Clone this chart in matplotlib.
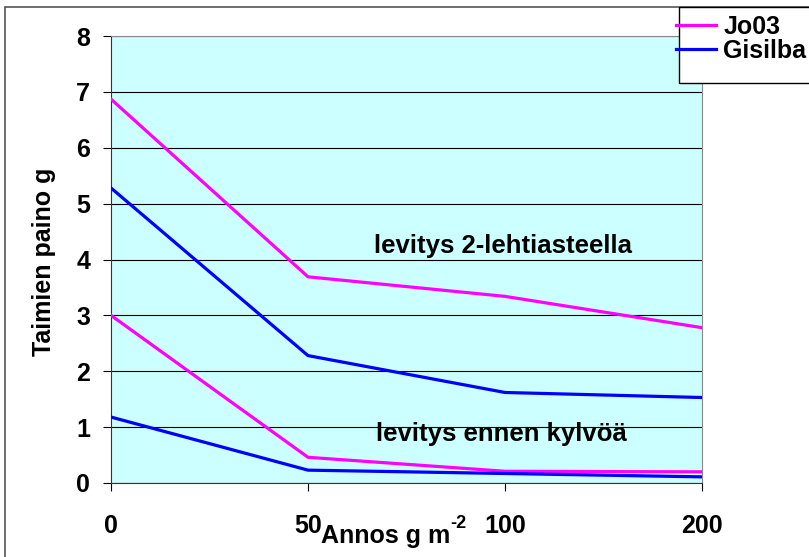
import matplotlib.pyplot as plt
from matplotlib.patches import Rectangle

plt.rcParams['font.family'] = ['Liberation Sans', 'DejaVu Sans']
plt.rcParams['font.weight'] = 'bold'

# annos g m-2 (kategoria-akseli)
annos = ['0', '50', '100', '200']
jo03_lehti = [6.87, 3.69, 3.34, 2.78]
gisilba_lehti = [5.28, 2.28, 1.62, 1.53]
jo03_ennen = [3.0, 0.46, 0.21, 0.20]
gisilba_ennen = [1.18, 0.23, 0.17, 0.11]

W, H = 809, 557
fig = plt.figure(figsize=(W / 100, H / 100), dpi=100)

def fx(px):
    return px / W
def fy(py):
    return 1 - py / H

ax = fig.add_axes([fx(111), fy(483), fx(702) - fx(111), fy(36) - fy(483)])
ax.set_facecolor('#CCFFFF')
x = range(len(annos))

ax.plot(x, jo03_lehti, color='#FF00FF', lw=2.3, label='Jo03', zorder=3)
ax.plot(x, gisilba_lehti, color='#0000FF', lw=2.3, label='Gisilba', zorder=3)
ax.plot(x, jo03_ennen, color='#FF00FF', lw=2.3, zorder=3)
ax.plot(x, gisilba_ennen, color='#0000FF', lw=2.3, zorder=3)

ax.set_xlim(0, 3)
ax.set_ylim(0, 8)
ax.set_xticks(list(x))
ax.set_xticklabels(annos)
ax.set_yticks(range(0, 9))
ax.tick_params(axis='both', labelsize=18, length=6, width=0.8, direction='out')
ax.tick_params(axis='x', pad=16)
ax.tick_params(axis='y', pad=9)
for lab in ax.get_xticklabels() + ax.get_yticklabels():
    lab.set_fontweight('bold')
ax.grid(axis='y', color='black', lw=0.8)
ax.set_axisbelow(True)
for s in ['left', 'bottom']:
    ax.spines[s].set_color('#333333')
for s in ['right', 'top']:
    ax.spines[s].set_color('#888888')

ax.text(1.99, 4.24, 'levitys 2-lehtiasteella', fontsize=18.5, fontweight='bold',
        ha='center', va='center')
ax.text(1.98, 0.88, 'levitys ennen kylvöä', fontsize=18.5, fontweight='bold',
        ha='center', va='center')

fig.text(fx(44), fy(262), 'Taimien paino g', rotation=90, fontsize=18,
         fontweight='bold', ha='center', va='center')
fig.text(fx(321), fy(543), 'Annos g m', fontsize=18, fontweight='bold',
         ha='left', va='baseline')
fig.text(fx(450), fy(528), '-2', fontsize=13, fontweight='bold',
         ha='left', va='baseline')

# kehys ja selitelaatikko
fig.patches.append(Rectangle((fx(5), fy(560)), 1, fy(7) - fy(560),
                             transform=fig.transFigure, fill=False,
                             edgecolor='#555555', lw=1.2))
fig.patches.append(Rectangle((fx(679), fy(83)), fx(140), fy(7) - fy(83),
                             transform=fig.transFigure, facecolor='white',
                             edgecolor='black', lw=1, zorder=5))
leg = fig.legend(loc='upper left', bbox_to_anchor=(fx(676), fy(15)),
                 frameon=False, fontsize=18, handlelength=1.6,
                 handletextpad=0.3, labelspacing=0.0, borderpad=0,
                 borderaxespad=0)
leg.set_zorder(6)
for t in leg.get_texts():
    t.set_fontweight('bold')

fig.savefig('out.png', dpi=100)
